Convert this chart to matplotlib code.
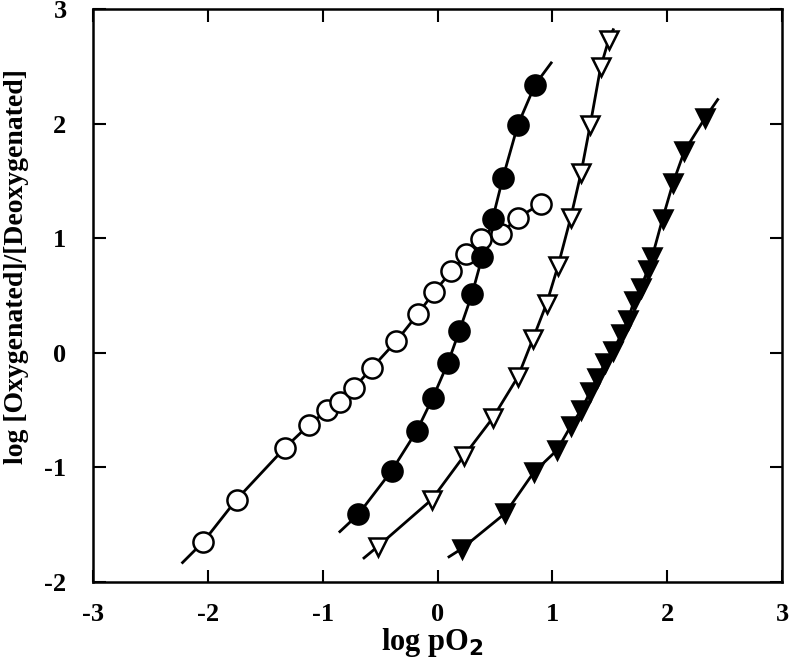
#!/usr/bin/env python3
"""
Hill plots: log [Oxygenated]/[Deoxygenated] vs log pO2 for four samples.
"""

import matplotlib
matplotlib.use("Agg")
import matplotlib.pyplot as plt

# open circles
open_circ_x = [-2.04, -1.75, -1.33, -1.12, -0.96, -0.85, -0.73, -0.57, -0.36, -0.17,
               -0.03, 0.12, 0.25, 0.38, 0.55, 0.70, 0.90]
open_circ_y = [-1.65, -1.28, -0.83, -0.63, -0.50, -0.43, -0.31, -0.13, 0.10, 0.34,
               0.53, 0.71, 0.86, 0.99, 1.04, 1.18, 1.30]

# filled circles
fill_circ_x = [-0.69, -0.40, -0.18, -0.04, 0.09, 0.19, 0.30, 0.39, 0.48, 0.57, 0.70, 0.85]
fill_circ_y = [-1.41, -1.03, -0.68, -0.39, -0.09, 0.19, 0.51, 0.84, 1.17, 1.53, 1.99, 2.34]

# open down-triangles
open_tri_x = [-0.52, -0.05, 0.23, 0.48, 0.70, 0.83, 0.95, 1.05, 1.16, 1.25, 1.33, 1.42, 1.49]
open_tri_y = [-1.69, -1.28, -0.90, -0.57, -0.21, 0.12, 0.43, 0.76, 1.18, 1.57, 1.99, 2.49, 2.73]

# filled down-triangles
fill_tri_x = [0.21, 0.59, 0.84, 1.04, 1.16, 1.25, 1.33, 1.39, 1.46, 1.53, 1.60, 1.66,
              1.71, 1.77, 1.83, 1.87, 1.96, 2.05, 2.15, 2.33]
fill_tri_y = [-1.71, -1.40, -1.04, -0.85, -0.64, -0.50, -0.34, -0.22, -0.09, 0.02, 0.16,
              0.29, 0.45, 0.57, 0.72, 0.84, 1.17, 1.48, 1.76, 2.05]

# where each drawn fit line starts and ends
line_ends = {
    "open_circ": ((-2.22, -1.83), (0.90, 1.30)),
    "fill_circ": ((-0.85, -1.56), (0.99, 2.53)),
    "open_tri": ((-0.64, -1.79), (1.53, 2.82)),
    "fill_tri": ((0.10, -1.78), (2.44, 2.21)),
}

x_ticks = [-3, -2, -1, 0, 1, 2, 3]
y_ticks = [-2, -1, 0, 1, 2, 3]

plt.rcParams['font.family'] = ['Liberation Serif', 'DejaVu Serif']
plt.rcParams['font.weight'] = 'bold'

fig = plt.figure(figsize=(7.92, 6.70), dpi=100)
ax = fig.add_axes([0.1174, 0.1313, 0.870, 0.8552])

series = [
    ("open_circ", open_circ_x, open_circ_y, 'o', 'white', 14.5),
    ("fill_circ", fill_circ_x, fill_circ_y, 'o', 'black', 14.5),
    ("open_tri", open_tri_x, open_tri_y, 'v', 'white', 13.5),
    ("fill_tri", fill_tri_x, fill_tri_y, 'v', 'black', 13.5),
]

for key, xs, ys, mk, fc, ms in series:
    (x0, y0), (x1, y1) = line_ends[key]
    lx = [x0] + list(xs) + [x1]
    ly = [y0] + list(ys) + [y1]
    ax.plot(lx, ly, color='black', linewidth=2.0, zorder=2)
    ax.plot(xs, ys, linestyle='none', marker=mk, markersize=ms,
            markerfacecolor=fc, markeredgecolor='black', markeredgewidth=1.8, zorder=3)

ax.set_xlim(-3, 3)
ax.set_ylim(-2, 3)
ax.set_xticks(x_ticks)
ax.set_yticks(y_ticks)
ax.set_xticklabels([str(t) for t in x_ticks])
ax.set_yticklabels([str(t) for t in y_ticks])
ax.tick_params(direction='in', length=9, width=1.5, top=True, right=True, labelsize=19)
ax.tick_params(axis='x', pad=15)
ax.tick_params(axis='y', pad=19)
for sp in ax.spines.values():
    sp.set_linewidth(1.8)

ax.set_xlabel(r'log pO$_\mathbf{2}$', fontsize=22, fontweight='bold')
ax.xaxis.set_label_coords(0.493, -0.076)
ax.set_ylabel('log [Oxygenated]/[Deoxygenated]', fontsize=20, fontweight='bold')
ax.yaxis.set_label_coords(-0.093, 0.55)

plt.savefig("out.png", dpi=100)
plt.close()
